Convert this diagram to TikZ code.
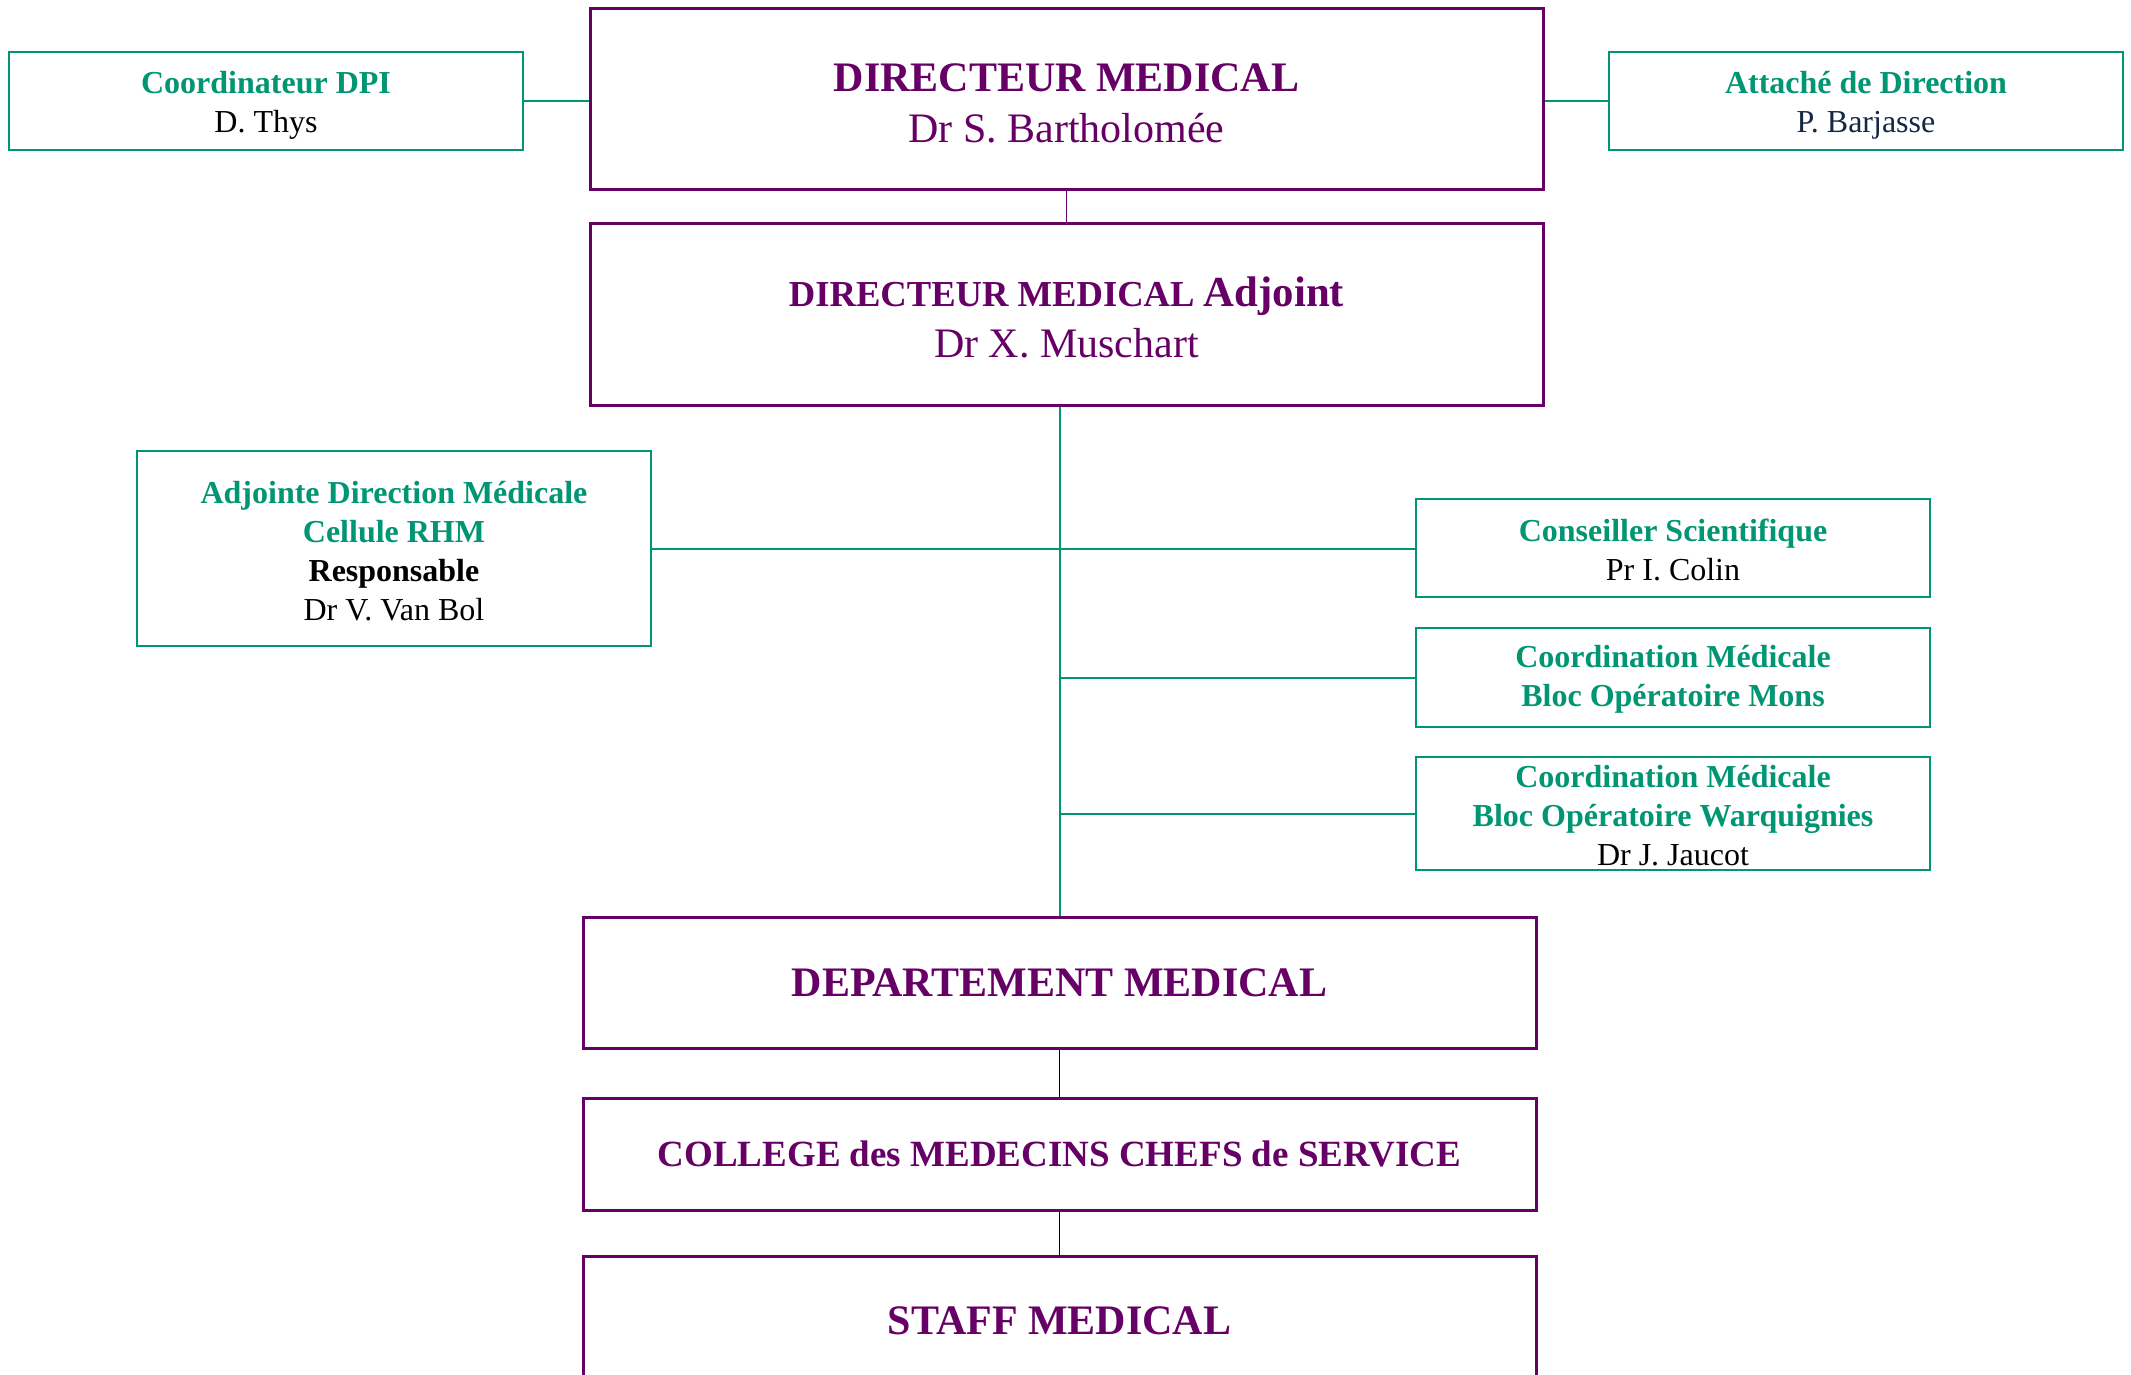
\documentclass[tikz,border=0pt]{standalone}
\usepackage{fontspec}
\setmainfont{Liberation Serif}
\usepackage{xcolor}
\definecolor{dirpurple}{RGB}{102,0,102}
\definecolor{cellgreen}{RGB}{0,150,115}
\definecolor{navyname}{RGB}{20,40,70}

\tikzset{
  purplebox/.style={draw=dirpurple, line width=1.5pt, rectangle, align=center,
    minimum width=476.5pt, inner sep=0pt, text=dirpurple,
    font=\fontsize{21}{25.5}\selectfont},
  greenbox/.style={draw=cellgreen, line width=1pt, rectangle, align=center,
    minimum width=257pt, inner sep=0pt, font=\fontsize{16}{19.5}\selectfont},
  greenlink/.style={draw=cellgreen, line width=1pt},
  purplelink/.style={draw=dirpurple, line width=0.5pt},
  blacklink/.style={draw=black, line width=0.5pt},
}
\newcommand{\gtitle}[1]{\textcolor{cellgreen}{\bfseries\strut #1}}
\newcommand{\topstrut}[1]{\rule{0pt}{#1}}

\begin{document}
\begin{tikzpicture}[x=0.5pt,y=-0.5pt]
  \useasboundingbox[fill=white] (0,0) rectangle (2131,1375);

  % direction
  \node[purplebox, minimum height=90.5pt] (DM) at (1066.5, 99.5)
    {\topstrut{18pt}\textbf{DIRECTEUR MEDICAL}\\ Dr S. Bartholom\'ee};
  \node[purplebox, minimum height=90.5pt] (ADJ) at (1066.5, 314.5)
    {\topstrut{17.6pt}\textbf{\fontsize{18.3}{25.5}\selectfont DIRECTEUR MEDICAL \fontsize{21.4}{25.5}\selectfont Adjoint}\\
     Dr X. Muschart};

  \node[greenbox, minimum height=49pt] (DPI) at (266, 101)
    {\topstrut{15.5pt}\gtitle{Coordinateur DPI}\\ D. Thys};
  \node[greenbox, minimum height=49pt] (ATT) at (1866, 101)
    {\topstrut{15.5pt}\gtitle{Attach\'e de Direction}\\ \textcolor{navyname}{P. Barjasse}};

  % cellules
  \node[greenbox, minimum height=97.5pt] (RHM) at (394, 548.5)
    {\gtitle{Adjointe Direction M\'edicale}\\ \gtitle{Cellule RHM}\\
     \textbf{Responsable}\\ Dr V. Van Bol};
  \node[greenbox, minimum height=49pt] (CONS) at (1673, 548)
    {\gtitle{Conseiller Scientifique}\\ Pr I. Colin};
  \node[greenbox, minimum height=49.5pt] (MONS) at (1673, 677.5)
    {\topstrut{15pt}\gtitle{Coordination M\'edicale}\\ \gtitle{Bloc Op\'eratoire Mons}};
  \node[greenbox, minimum height=56.5pt] (WARQ) at (1673, 813.5)
    {\gtitle{Coordination M\'edicale}\\ \gtitle{Bloc Op\'eratoire Warquignies}\\ Dr J. Jaucot};

  % departement
  \node[purplebox, minimum height=65.5pt] (DEPT) at (1059.5, 982.5)
    {\textbf{DEPARTEMENT MEDICAL}};
  \node[purplebox, minimum height=56pt] (COLL) at (1059.5, 1154)
    {\fontsize{18.5}{22}\selectfont\textbf{COLLEGE des MEDECINS CHEFS de SERVICE}};
  \node[purplebox, minimum height=65pt] (STAFF) at (1059.5, 1321)
    {\textbf{STAFF MEDICAL}};

  % liens
  \coordinate (spine) at (DEPT.north |- ADJ.south);
  \path[greenlink] (DPI.east) -- (DPI.east -| DM.west);
  \path[greenlink] (ATT.west) -- (ATT.west -| DM.east);
  \path[purplelink] (DM.south) -- (ADJ.north);
  \path[greenlink] (spine) -- (DEPT.north);
  \path[greenlink] (RHM.east) -- (RHM.east -| CONS.west);
  \path[greenlink] (spine |- MONS.west) -- (MONS.west);
  \path[greenlink] (spine |- WARQ.west) -- (WARQ.west);
  \path[blacklink] (DEPT.south) -- (COLL.north);
  \path[blacklink] (COLL.south) -- (STAFF.north);
\end{tikzpicture}
\end{document}
